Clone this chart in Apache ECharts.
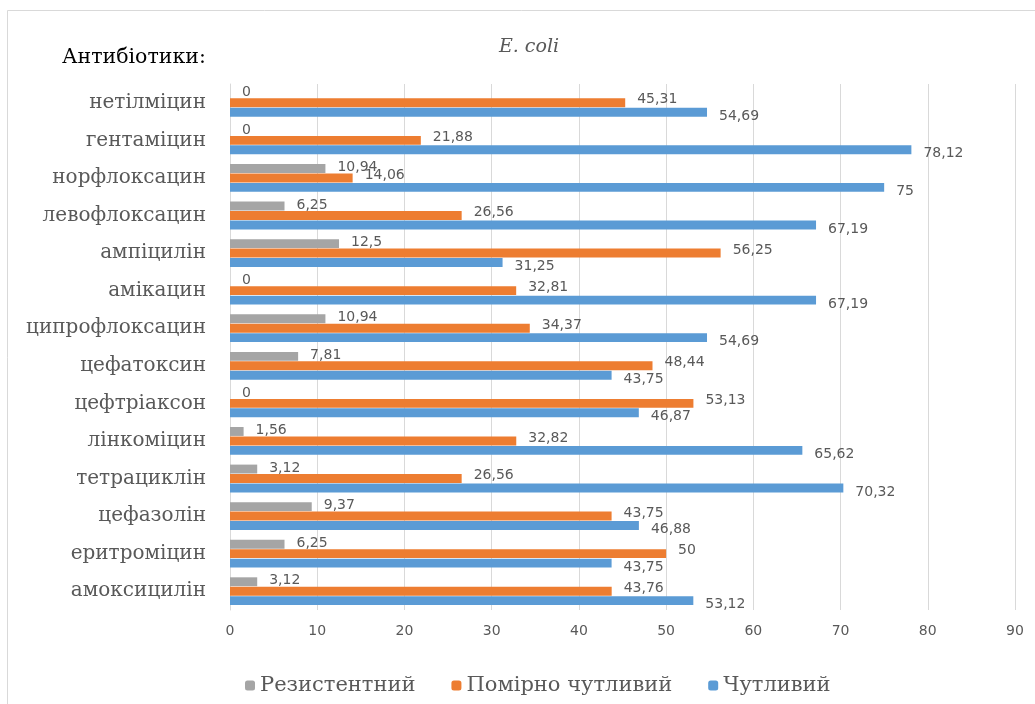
<!DOCTYPE html>
<html>
<head>
<meta charset="utf-8">
<script src="https://cdn.jsdelivr.net/npm/echarts@6/dist/echarts.min.js"></script>
<style>
  html, body { margin: 0; padding: 0; background: #fff; }
  #chart { width: 1035px; height: 704px; }
</style>
</head>
<body>
<div id="chart"></div>
<script>
// антибіотики, зверху вниз
const categories = ['нетілміцин', 'гентаміцин', 'норфлоксацин', 'левофлоксацин', 'ампіцилін', 'амікацин',
  'ципрофлоксацин', 'цефатоксин', 'цефтріаксон', 'лінкоміцин', 'тетрациклін', 'цефазолін', 'еритроміцин', 'амоксицилін'];
const resistant = [0, 0, 10.94, 6.25, 12.5, 0, 10.94, 7.81, 0, 1.56, 3.12, 9.37, 6.25, 3.12];
const moderate = [45.31, 21.88, 14.06, 26.56, 56.25, 32.81, 34.37, 48.44, 53.13, 32.82, 26.56, 43.75, 50, 43.76];
const sensitive = [54.69, 78.12, 75, 67.19, 31.25, 67.19, 54.69, 43.75, 46.87, 65.62, 70.32, 46.88, 43.75, 53.12];
const xTicks = [0, 10, 20, 30, 40, 50, 60, 70, 80, 90];

const chart = echarts.init(document.getElementById('chart'));

const fmt = p => String(p.value).replace('.', ',');
const labelStyle = (dy) => ({
  show: true,
  position: 'right',
  distance: 12,
  offset: [0, dy],
  formatter: fmt,
  color: '#595959',
  fontFamily: 'DejaVu Sans',
  fontSize: 14
});

const serif = 'DejaVu Serif';

const option = {
  backgroundColor: '#fff',
  animation: false,
  graphic: [
    {
      type: 'rect',
      shape: { x: 7.5, y: 10.5, width: 1100, height: 800 },
      style: { fill: 'none', stroke: '#d9d9d9', lineWidth: 1 }
    },
    {
      type: 'text',
      left: 62, top: 47,
      style: { text: 'Антибіотики:', fill: '#000', font: '20.5px "' + serif + '"' }
    }
  ],
  title: {
    text: 'E. coli',
    left: 524,
    top: 33,
    textAlign: 'center',
    textStyle: { color: '#595959', fontStyle: 'italic', fontWeight: 'normal', fontFamily: serif, fontSize: 19 }
  },
  legend: {
    top: 670,
    left: 240,
    itemWidth: 10,
    itemHeight: 10,
    itemGap: 36,
    textStyle: { color: '#595959', fontFamily: serif, fontSize: 21 },
    data: ['Резистентний', 'Помірно чутливий', 'Чутливий']
  },
  grid: { left: 230, right: 20, top: 84, bottom: 94 },
  xAxis: {
    type: 'value',
    min: xTicks[0],
    max: xTicks[xTicks.length - 1],
    interval: 10,
    axisLine: { show: false },
    axisTick: { show: false },
    splitLine: { lineStyle: { color: '#d9d9d9' } },
    axisLabel: { color: '#595959', fontFamily: 'DejaVu Sans', fontSize: 14, margin: 14 }
  },
  yAxis: {
    type: 'category',
    data: categories,
    inverse: true,
    axisLine: { lineStyle: { color: '#d9d9d9' } },
    axisTick: { show: false },
    axisLabel: { color: '#595959', fontFamily: serif, fontSize: 20, margin: 24 }
  },
  series: [
    {
      name: 'Резистентний', type: 'bar', data: resistant,
      itemStyle: { color: '#a5a5a5' },
      barGap: '6%', barCategoryGap: '26%',
      label: labelStyle(-1)
    },
    {
      name: 'Помірно чутливий', type: 'bar', data: moderate,
      itemStyle: { color: '#ed7d31' },
      label: labelStyle(-3)
    },
    {
      name: 'Чутливий', type: 'bar', data: sensitive,
      itemStyle: { color: '#5b9bd5' },
      label: labelStyle(4)
    }
  ]
};

chart.setOption(option);
</script>
</body>
</html>
